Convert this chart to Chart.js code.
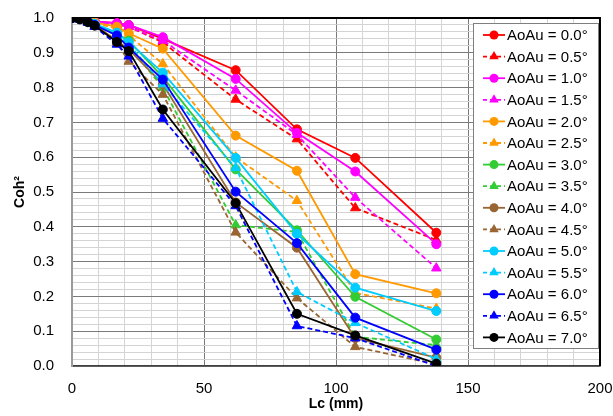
<!DOCTYPE html>
<html><head><meta charset="utf-8">
<script src="https://cdn.jsdelivr.net/npm/chart.js@4.4.0/dist/chart.umd.min.js"></script>
<style>html,body{margin:0;padding:0;background:#fff}#wrap{width:613px;height:416px}</style>
</head><body><div id="wrap"><canvas id="c" width="613" height="416"></canvas></div>
<script>
// ---- data ----
const lcValues = [0, 3, 6, 8.6, 17, 21.5, 34.4, 62, 85.2, 107.3, 138];
const seriesLabels = ['AoAu = 0.0°','AoAu = 0.5°','AoAu = 1.0°','AoAu = 1.5°','AoAu = 2.0°','AoAu = 2.5°','AoAu = 3.0°','AoAu = 3.5°','AoAu = 4.0°','AoAu = 4.5°','AoAu = 5.0°','AoAu = 5.5°','AoAu = 6.0°','AoAu = 6.5°','AoAu = 7.0°'];
const aoa00 = [1.0, 0.998, 0.995, 0.990, 0.985, 0.980, 0.940, 0.850, 0.680, 0.598, 0.383];
const aoa05 = [1.0, 0.998, 0.994, 0.988, 0.982, 0.975, 0.930, 0.766, 0.652, 0.454, 0.362];
const aoa10 = [1.0, 0.998, 0.995, 0.990, 0.985, 0.980, 0.945, 0.825, 0.670, 0.559, 0.350];
const aoa15 = [1.0, 0.998, 0.994, 0.988, 0.982, 0.975, 0.935, 0.792, 0.665, 0.484, 0.281];
const aoa20 = [1.0, 0.998, 0.993, 0.987, 0.975, 0.956, 0.912, 0.662, 0.561, 0.264, 0.209];
const aoa25 = [1.0, 0.998, 0.992, 0.985, 0.970, 0.950, 0.868, 0.600, 0.475, 0.210, 0.165];
const aoa30 = [1.0, 0.997, 0.990, 0.982, 0.955, 0.935, 0.830, 0.565, 0.390, 0.199, 0.076];
const aoa35 = [1.0, 0.997, 0.990, 0.980, 0.950, 0.920, 0.800, 0.405, 0.385, 0.084, 0.060];
const aoa40 = [1.0, 0.997, 0.990, 0.980, 0.935, 0.910, 0.810, 0.470, 0.340, 0.080, 0.024];
const aoa45 = [1.0, 0.996, 0.988, 0.976, 0.930, 0.875, 0.780, 0.384, 0.195, 0.055, 0.005];
const aoa50 = [1.0, 0.997, 0.990, 0.983, 0.958, 0.930, 0.843, 0.598, 0.380, 0.225, 0.158];
const aoa55 = [1.0, 0.997, 0.990, 0.982, 0.950, 0.925, 0.810, 0.569, 0.213, 0.124, 0.020];
const aoa60 = [1.0, 0.997, 0.990, 0.980, 0.950, 0.915, 0.823, 0.501, 0.353, 0.139, 0.047];
const aoa65 = [1.0, 0.996, 0.987, 0.975, 0.924, 0.890, 0.711, 0.460, 0.115, 0.080, 0.000];
const aoa70 = [1.0, 0.996, 0.988, 0.978, 0.931, 0.905, 0.737, 0.468, 0.150, 0.088, 0.007];
const allSeries = [aoa00, aoa05, aoa10, aoa15, aoa20, aoa25, aoa30, aoa35, aoa40, aoa45, aoa50, aoa55, aoa60, aoa65, aoa70];
const seriesColors = ['#FF0000','#FF0000','#FF00FF','#FF00FF','#FF9900','#FF9900','#33CC33','#33CC33','#996633','#996633','#00CCFF','#00CCFF','#0000FF','#0000FF','#000000'];
const yTickStep = 0.02, yLabelStep = 0.1;
const xTickStep = 10, xLabelStep = 50;

// ---- chart ----
const FONT = "'Liberation Sans', Arial, sans-serif";
Chart.defaults.font.family = FONT;
const isMajor = (v, step) => Math.abs(v / step - Math.round(v / step)) < 1e-6;

const datasets = allSeries.map((vals, i) => {
  const tri = i % 2 === 1;
  return {
    label: seriesLabels[i],
    data: vals.map((v, j) => ({x: lcValues[j], y: v})),
    borderColor: seriesColors[i],
    backgroundColor: seriesColors[i],
    borderWidth: 1.8,
    borderDash: tri ? [5, 3] : [],
    pointStyle: tri ? 'triangle' : 'circle',
    pointRadius: tri ? 5.5 : 4.5,
    pointBorderWidth: 1,
    showLine: true,
    tension: 0,
    order: allSeries.length - i
  };
});

const frameAndLegend = {
  id: 'frameAndLegend',
  beforeDatasetsDraw(chart) {
    const {ctx, chartArea: a} = chart;
    ctx.save();
    ctx.strokeStyle = '#000';
    ctx.lineWidth = 2;
    ctx.beginPath();
    ctx.moveTo(a.left, a.top); ctx.lineTo(a.right, a.top); ctx.lineTo(a.right, a.bottom);
    ctx.stroke();
    ctx.restore();
  },
  afterDraw(chart) {
    const {ctx, chartArea: a} = chart;
    const bx = a.right - 127, by = a.top + 5, bw = 125, bh = 325;
    ctx.save();
    ctx.fillStyle = '#fff';
    ctx.fillRect(bx, by, bw, bh);
    ctx.strokeStyle = '#7f7f7f';
    ctx.lineWidth = 1;
    ctx.strokeRect(bx + 0.5, by + 0.5, bw, bh);
    const rowH = 21.6;
    chart.data.datasets.forEach((ds, i) => {
      const cy = by + 12 + i * rowH;
      const lx0 = bx + 10, lx1 = bx + 32, mx = bx + 21;
      ctx.strokeStyle = ds.borderColor;
      ctx.fillStyle = ds.borderColor;
      ctx.lineWidth = 1.8;
      ctx.setLineDash(ds.borderDash.length ? [4, 3] : []);
      ctx.beginPath(); ctx.moveTo(lx0, cy); ctx.lineTo(lx1, cy); ctx.stroke();
      ctx.setLineDash([]);
      ctx.beginPath();
      if (ds.pointStyle === 'circle') {
        ctx.arc(mx, cy, 4.5, 0, Math.PI * 2);
      } else {
        const r = 5.5;
        ctx.moveTo(mx, cy - r);
        ctx.lineTo(mx + r * 0.866, cy + r * 0.5);
        ctx.lineTo(mx - r * 0.866, cy + r * 0.5);
        ctx.closePath();
      }
      ctx.fill();
      ctx.fillStyle = '#000';
      ctx.font = '15px ' + FONT;
      ctx.textAlign = 'left';
      ctx.textBaseline = 'middle';
      ctx.fillText(ds.label, bx + 34, cy + 1);
    });
    ctx.restore();
  }
};

new Chart(document.getElementById('c'), {
  type: 'scatter',
  data: {datasets},
  plugins: [frameAndLegend],
  options: {
    responsive: false,
    animation: false,
    layout: {padding: {top: 18, right: 13, left: 0, bottom: 0}},
    plugins: {legend: {display: false}, tooltip: {enabled: false}},
    scales: {
      x: {
        type: 'linear', min: 0, max: 200,
        afterFit: s => { s.height = 50; s.paddingLeft = 0; s.paddingRight = 0; },
        ticks: {stepSize: xTickStep, autoSkip: false, maxRotation: 0, padding: 14,
          color: '#000', font: {size: 15},
          callback: v => isMajor(v, xLabelStep) ? String(v) : ''},
        grid: {drawTicks: false, lineWidth: 1,
          color: c => isMajor(c.tick.value, xLabelStep) ? '#7a7a7a' : '#d4d4d4'},
        border: {color: '#404040', width: 1.5},
        title: {display: true, text: 'Lc (mm)', color: '#000',
          font: {size: 14, weight: 'bold'}, padding: {top: 0, bottom: 3.6}}
      },
      y: {
        type: 'linear', min: 0, max: 1,
        afterFit: s => { s.width = 72; s.paddingTop = 0; s.paddingBottom = 0; },
        ticks: {stepSize: yTickStep, autoSkip: false, padding: 18,
          color: '#000', font: {size: 15},
          callback: v => isMajor(v, yLabelStep) ? v.toFixed(1) : ''},
        grid: {drawTicks: false, lineWidth: 1,
          color: c => isMajor(c.tick.value, yLabelStep) ? '#7a7a7a' : '#d4d4d4'},
        border: {color: '#9a9a9a', width: 2},
        title: {display: true, text: 'Coh²', color: '#000',
          font: {size: 14, weight: 'bold'}, padding: {top: 11.6, bottom: 0}}
      }
    }
  }
});
</script>
</body></html>
